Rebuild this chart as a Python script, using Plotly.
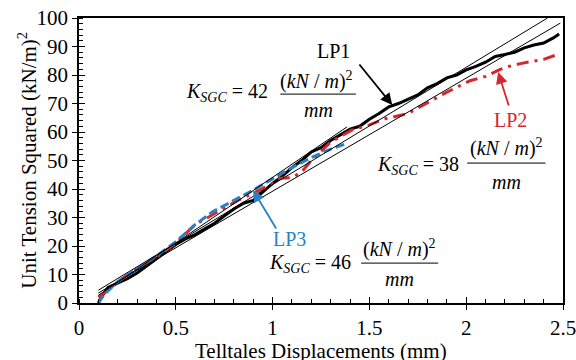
import plotly.graph_objects as go

# ---- data ----
lp1_x = [0.10, 0.12, 0.15, 0.20, 0.25, 0.30, 0.35, 0.40, 0.45, 0.50, 0.55, 0.60, 0.65, 0.70, 0.75,
         0.80, 0.85, 0.90, 0.95, 1.00, 1.05, 1.10, 1.15, 1.20, 1.25, 1.30, 1.35, 1.40, 1.45, 1.50,
         1.55, 1.60, 1.65, 1.70, 1.75, 1.80, 1.85, 1.90, 1.95, 2.00, 2.05, 2.10, 2.15, 2.20, 2.25,
         2.30, 2.35, 2.40, 2.45, 2.48]
lp1_y = [0.0, 2.5, 5.5, 7.0, 8.5, 10.5, 13.0, 15.8, 18.0, 20.5, 22.5, 24.0, 26.0, 28.0, 30.5,
         33.0, 35.0, 36.0, 39.0, 42.0, 44.5, 47.5, 50.0, 53.0, 54.5, 57.0, 59.0, 61.0, 62.0, 64.5,
         66.5, 68.8, 70.0, 71.5, 73.0, 75.5, 77.0, 79.0, 80.0, 81.8, 83.0, 84.5, 86.5, 87.2, 88.0,
         89.5, 90.5, 91.2, 93.0, 94.4]

lp2_x = [0.10, 0.15, 0.20, 0.30, 0.40, 0.50, 0.60, 0.70, 0.82, 0.90, 1.00, 1.04, 1.10, 1.15,
         1.20, 1.30, 1.41, 1.50, 1.58, 1.70, 1.75, 1.90, 2.02, 2.10, 2.17, 2.22, 2.28, 2.40, 2.48]
lp2_y = [2.0, 4.5, 7.5, 12.0, 16.0, 21.0, 27.5, 31.5, 36.0, 38.5, 42.0, 43.8, 44.0, 46.0,
         50.0, 56.5, 60.7, 62.5, 64.6, 66.5, 68.4, 74.0, 78.0, 79.5, 81.8, 83.0, 84.0, 85.5, 87.4]

lp3_x = [0.10, 0.13, 0.20, 0.30, 0.40, 0.50, 0.60, 0.69, 0.83, 0.90, 0.99, 1.10, 1.20, 1.30, 1.385]
lp3_y = [0.0, 3.0, 7.5, 12.0, 16.5, 21.5, 27.5, 32.0, 37.0, 39.6, 43.2, 47.5, 51.0, 54.0, 56.0]

fit42_x = [0.10, 2.42]
fit42_y = [4.5, 100.0]
fit38_x = [0.10, 2.486]
fit38_y = [3.5, 98.2]
fit46_x = [0.10, 1.385]
fit46_y = [2.7, 61.8]

x_ticks = [0, 0.5, 1, 1.5, 2, 2.5]
x_tick_text = ["0", "0.5", "1", "1.5", "2", "2.5"]
y_ticks = [0, 10, 20, 30, 40, 50, 60, 70, 80, 90, 100]

x_title = "Telltales Displacements (mm)"
y_title = "Unit Tension Squared (kN/m)<sup>2</sup>"

FONT = "Liberation Serif"
RED = "#d7262b"
BLUE = "#2a7fc6"

fig = go.Figure()

fig.add_trace(go.Scatter(x=lp1_x, y=lp1_y, mode="lines",
                         line=dict(color="black", width=3), showlegend=False))
fig.add_trace(go.Scatter(x=lp2_x, y=lp2_y, mode="lines",
                         line=dict(color=RED, width=3, dash="12px,6px,3px,6px"), showlegend=False))
fig.add_trace(go.Scatter(x=lp3_x, y=lp3_y, mode="lines",
                         line=dict(color=BLUE, width=3, dash="9px,4px"), showlegend=False))
for fx, fy in [(fit42_x, fit42_y), (fit38_x, fit38_y), (fit46_x, fit46_y)]:
    fig.add_trace(go.Scatter(x=fx, y=fy, mode="lines",
                             line=dict(color="black", width=1), showlegend=False))

# invisible trace for the overlay axes (inner half of major ticks)
fig.add_trace(go.Scatter(x=[0], y=[0], xaxis="x2", yaxis="y2", mode="markers",
                         marker=dict(opacity=0), showlegend=False, hoverinfo="skip"))

tick_font = dict(family=FONT, size=21, color="black")
xtitle_font = dict(family=FONT, size=21, color="black")
ytitle_font = dict(family=FONT, size=21, color="black")

fig.update_layout(
    width=576, height=360,
    margin=dict(l=79, r=13, t=18, b=57),
    paper_bgcolor="white", plot_bgcolor="white",
    font=dict(family=FONT, size=20, color="black"),
    xaxis=dict(range=[0, 2.5], tickvals=x_ticks, ticktext=x_tick_text, automargin=False,
               ticklabeloverflow="allow",
               ticks="outside", ticklen=5, tickwidth=1.2, tickcolor="black",
               minor=dict(dtick=0.1, ticks="inside", ticklen=4, tickcolor="black", tickwidth=1),
               showgrid=False, zeroline=False, showline=True, linecolor="black", linewidth=1.5,
               mirror=True, tickfont=tick_font),
    yaxis=dict(range=[0, 100], tickvals=y_ticks, automargin=False,
               ticklabeloverflow="allow",
               ticks="outside", ticklen=5, tickwidth=1.2, tickcolor="black",
               minor=dict(dtick=2, ticks="inside", ticklen=4, tickcolor="black", tickwidth=1),
               showgrid=False, zeroline=False, showline=True, linecolor="black", linewidth=1.5,
               mirror=True, tickfont=tick_font),
    xaxis2=dict(overlaying="x", matches="x", range=[0, 2.5], tickvals=x_ticks, automargin=False,
                ticks="inside", ticklen=6, tickwidth=1.2, tickcolor="black",
                showticklabels=False, showgrid=False, zeroline=False, showline=False),
    yaxis2=dict(overlaying="y", matches="y", range=[0, 100], tickvals=y_ticks, automargin=False,
                ticks="inside", ticklen=6, tickwidth=1.2, tickcolor="black",
                showticklabels=False, showgrid=False, zeroline=False, showline=False),
)

# axis titles as annotations for exact placement
fig.add_annotation(x=0.5, y=-0.168, xref="paper", yref="paper", text=x_title, showarrow=False,
                   xanchor="center", yanchor="middle", font=xtitle_font)
fig.add_annotation(x=-0.107, y=0.5, xref="paper", yref="paper", text=y_title, showarrow=False,
                   textangle=-90, xanchor="center", yanchor="middle", font=ytitle_font)

eq_font = dict(family=FONT, size=20, color="black")
frac_font = dict(family=FONT, size=20, color="black")

equations = [
    # (K text right x, K y, numerator x, numerator y, line x0, line x1, line y, mm y, value)
    (0.985, 73.7, 1.225, 78.2, 1.04, 1.43, 73.3, 67.7, "42"),
    (1.975, 48.4, 2.207, 54.7, 2.005, 2.41, 49.1, 42.5, "38"),
    (1.415, 14.0, 1.656, 19.0, 1.457, 1.855, 14.0, 8.4, "46"),
]
for kx, ky, nx, ny, lx0, lx1, ly, my, val in equations:
    fig.add_annotation(x=kx, y=ky, xref="x", yref="y", xanchor="right", yanchor="middle",
                       text="<i>K</i><sub><i>SGC</i></sub> = " + val, showarrow=False, font=eq_font)
    fig.add_annotation(x=nx, y=ny, xref="x", yref="y", xanchor="center", yanchor="middle",
                       text="(<i>kN</i> / <i>m</i>)<sup>2</sup>", showarrow=False, font=frac_font)
    fig.add_annotation(x=(lx0 + lx1) / 2, y=my, xref="x", yref="y", xanchor="center", yanchor="middle",
                       text="<i>mm</i>", showarrow=False, font=frac_font)
    fig.add_shape(type="line", x0=lx0, x1=lx1, y0=ly, y1=ly, xref="x", yref="y",
                  line=dict(color="black", width=1))

labels = [
    ("LP1", "black", 1.313, 88.4, 1.442, 84.2, 1.618, 69.5),
    ("LP2", RED, 2.227, 64.2, 2.222, 68.8, 2.165, 81.05),
    ("LP3", BLUE, 1.085, 22.5, 1.023, 25.6, 0.899, 39.6),
]
for txt, col, tx, ty, ax0, ay0, hx, hy in labels:
    fig.add_annotation(x=tx, y=ty, xref="x", yref="y", text=txt, showarrow=False,
                       font=dict(family=FONT, size=20, color=col))
    fig.add_annotation(x=hx, y=hy, ax=ax0, ay=ay0, xref="x", yref="y", axref="x", ayref="y",
                       text="", showarrow=True, arrowhead=2, arrowsize=1.3, arrowwidth=1.8,
                       arrowcolor=col)

fig.write_html("out.html")
